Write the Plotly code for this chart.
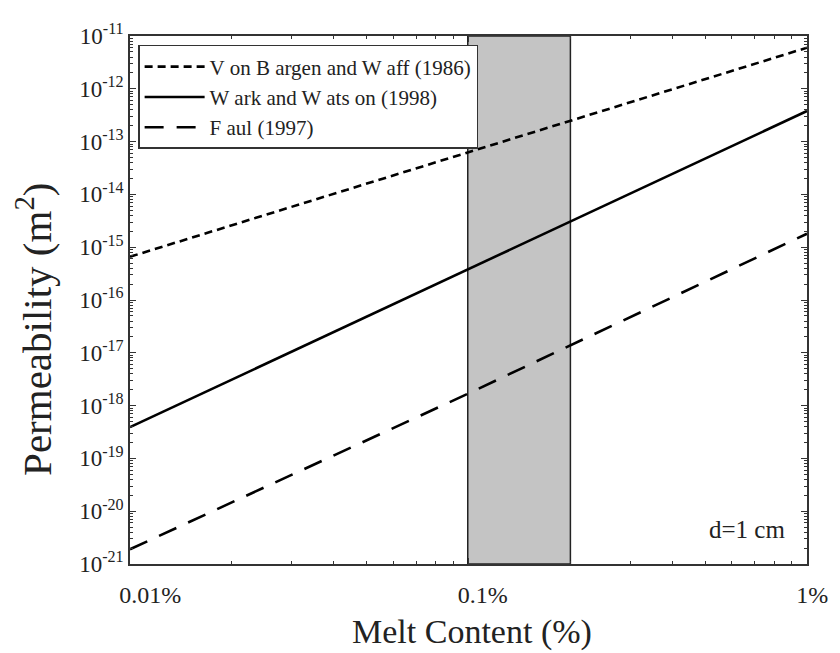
import plotly.graph_objects as go

# Melt content (%) and permeability (m^2)
melt_pct = [0.01, 0.1, 1.0]
von_bargen = [6.6e-16, 6.2e-14, 6.0e-12]
wark_watson = [3.9e-19, 3.8e-16, 3.8e-13]
faul = [1.9e-21, 1.7e-18, 1.8e-15]

band_x = [0.0995, 0.2]
y_lim = [1e-21, 1e-11]

x_tickvals = [0.01, 0.1, 1]
x_ticktext = ["0.01%", "0.1%", "1%"]
y_exps = list(range(-21, -10))
minor_digits = [2, 3, 4, 5, 6, 7, 8, 9]

FONT = "Liberation Serif"
INK = "#222"

fig = go.Figure()

# shaded band
fig.add_trace(go.Scatter(
    x=[band_x[0], band_x[0], band_x[1], band_x[1], band_x[0]],
    y=[y_lim[0], y_lim[1], y_lim[1], y_lim[0], y_lim[0]],
    mode="lines", fill="toself", fillcolor="#c4c4c4",
    line=dict(color=INK, width=1.5), showlegend=False, hoverinfo="skip"))

fig.add_trace(go.Scatter(x=melt_pct, y=von_bargen, mode="lines",
                         name="V on B argen and W aff (1986)",
                         line=dict(color="black", width=2.6, dash="8px,5px")))
fig.add_trace(go.Scatter(x=melt_pct, y=wark_watson, mode="lines",
                         name="W ark and W ats on (1998)",
                         line=dict(color="black", width=2.6)))
fig.add_trace(go.Scatter(x=melt_pct, y=faul, mode="lines",
                         name="F aul (1997)",
                         line=dict(color="black", width=2.6, dash="19px,13px")))

fig.add_annotation(x=0.97, y=0.065, xref="paper", yref="paper",
                   text="d=1 cm", showarrow=False, xanchor="right", yanchor="middle",
                   font=dict(family=FONT, size=25, color=INK))

# axis titles as annotations for precise placement
fig.add_annotation(x=0.505, y=-0.128, xref="paper", yref="paper",
                   text="Melt Content (%)", showarrow=False,
                   xanchor="center", yanchor="middle",
                   font=dict(family=FONT, size=34, color=INK))
fig.add_annotation(x=-0.142, y=0.445, xref="paper", yref="paper",
                   text="Permeability (m<sup>2</sup>)", showarrow=False, textangle=-90,
                   xanchor="center", yanchor="middle",
                   font=dict(family=FONT, size=41, color=INK))

x_minor = [d * 10.0 ** e for e in (-2, -1) for d in minor_digits]
y_minor = [d * 10.0 ** e for e in range(-21, -11) for d in minor_digits]

# the page body adds an 8px offset, so the figure is 8px smaller
fig.update_layout(
    width=832, height=645,
    margin=dict(l=122, r=22, t=15, b=89),
    plot_bgcolor="white", paper_bgcolor="white",
    font=dict(family=FONT, color=INK, size=22),
    xaxis=dict(
        type="log", range=[-2, 0], showgrid=False, zeroline=False, showline=True,
        linecolor="#333", linewidth=1.5, mirror="allticks",
        ticks="inside", ticklen=6, tickcolor="#333", tickwidth=1.2,
        tickmode="array", tickvals=x_tickvals, ticktext=x_ticktext,
        ticklabelposition="outside right", ticklabelshift=-12, ticklabelstandoff=8,
        ticklabeloverflow="allow",
        tickfont=dict(family=FONT, size=24, color=INK),
        minor=dict(tickmode="array", tickvals=x_minor, ticks="inside", ticklen=3,
                   tickcolor="#333", showgrid=False),
    ),
    yaxis=dict(
        type="log", range=[-21, -11], showgrid=False, zeroline=False, showline=True,
        linecolor="#333", linewidth=1.5, mirror="allticks",
        ticks="inside", ticklen=6, tickcolor="#333", tickwidth=1.2,
        tickmode="array", tickvals=[10.0 ** e for e in y_exps],
        ticktext=[f"10<sup>{e}</sup>" for e in y_exps],
        ticklabeloverflow="allow",
        tickfont=dict(family=FONT, size=23, color=INK),
        minor=dict(tickmode="array", tickvals=y_minor, ticks="inside", ticklen=3,
                   tickcolor="#333", showgrid=False),
    ),
    legend=dict(x=0.012, y=0.983, xanchor="left", yanchor="top",
                bgcolor="white", bordercolor="#333", borderwidth=1.5,
                font=dict(family=FONT, size=21, color=INK),
                itemwidth=60, tracegroupgap=0),
)

fig.write_html("out.html")
